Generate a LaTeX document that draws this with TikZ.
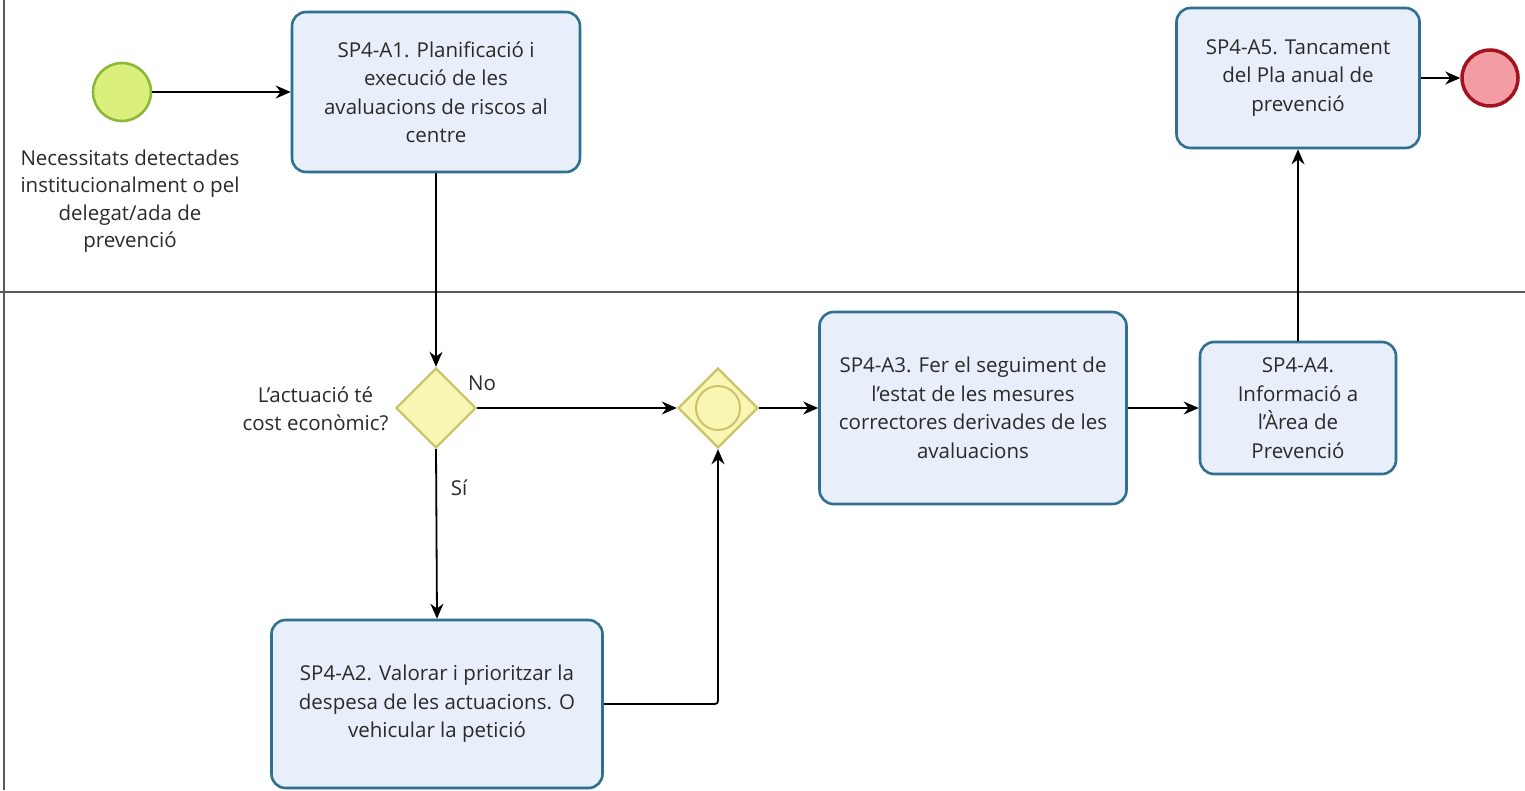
\documentclass[tikz,border=0pt]{standalone}
\usepackage{fontspec}
\setmainfont{Open Sans}
\usetikzlibrary{arrows.meta, shapes.geometric, positioning}

\definecolor{taskfill}{HTML}{E9EEFB}
\definecolor{taskline}{HTML}{2F6F8F}
\definecolor{startfill}{HTML}{DBF07C}
\definecolor{startline}{HTML}{8DB83C}
\definecolor{gatefill}{HTML}{F9F6B4}
\definecolor{gateline}{HTML}{C9C46A}
\definecolor{endfill}{HTML}{F29CA3}
\definecolor{endline}{HTML}{A3121F}
\definecolor{laneline}{HTML}{5A5A5A}
\definecolor{txt}{HTML}{2A2A2A}

\begin{document}
\begin{tikzpicture}[x=1pt, y=-1pt, text=txt,
  task/.style={draw=taskline, fill=taskfill, line width=2.6pt, rounded corners=14pt, align=center, inner sep=0pt, font=\fontsize{20.5}{28.5}\selectfont},
  gate/.style={diamond, draw=gateline, fill=gatefill, line width=2.4pt, minimum width=80pt, minimum height=80pt, inner sep=0pt},
  flow/.style={-{Stealth[length=15pt, width=13pt]}, line width=1.8pt},
  lane/.style={draw=laneline, line width=1.6pt},
  lbl/.style={align=center, font=\fontsize{20.5}{27.5}\selectfont}]
\useasboundingbox (0,0) rectangle (1525,790);
% Pool and lanes
\draw[lane] (4,0) -- (4,790);
\draw[lane] (0,292) -- (1525,292);
% Start event
\node[circle, draw=startline, fill=startfill, line width=2.6pt, minimum size=58pt] (start) at (122,92) {};
\node[lbl, below=24pt of start, xshift=8pt] (startlbl) {Necessitats detectades\\institucionalment o pel\\delegat/ada de\\prevenció};
% Tasks
\node[task, minimum width=288pt, minimum height=160pt] (a1) at (436,92) {SP4-A1. Planificació i\\execució de les\\avaluacions de riscos al\\centre};
\node[task, minimum width=331pt, minimum height=168pt] (a2) at (437,704) {SP4-A2. Valorar i prioritzar la\\despesa de les actuacions. O\\vehicular la petició};
\node[task, minimum width=307pt, minimum height=192pt] (a3) at (973,408) {SP4-A3. Fer el seguiment de\\l’estat de les mesures\\correctores derivades de les\\avaluacions};
\node[task, minimum width=196pt, minimum height=132pt] (a4) at (1298,408) {SP4-A4.\\Informació a\\l’Àrea de\\Prevenció};
\node[task, minimum width=243pt, minimum height=140pt] (a5) at (1298,78) {SP4-A5. Tancament\\del Pla anual de\\prevenció};
% Gateways
\node[gate] (g1) at (436,408) {};
\node[lbl, anchor=east] (g1lbl) at (392,409) {L’actuació té\\cost econòmic?};
\node[lbl] (no) at (482,383) {No};
\node[lbl] (si) at (459,488) {Sí};
\node[gate] (g2) at (718,408) {};
\node[circle, draw=gateline, line width=2pt, minimum size=44pt, inner sep=0pt] (g2c) at (g2) {};
% End event
\node[circle, draw=endline, fill=endfill, line width=3.5pt, minimum size=56pt] (end) at (1490,78) {};
% Sequence flows
\draw[flow] (start) -- (a1.west);
\draw[flow] (a1.south) -- (g1.north);
\draw[flow] (g1.east) -- (g2.west);
\draw[flow] (g1.south) -- (a2.north);
\draw[flow, rounded corners=3pt] (a2.east) -| (g2.south);
\draw[flow] (g2.east) -- (a3.west);
\draw[flow] (a3.east) -- (a4.west);
\draw[flow] (a4.north) -- (a5.south);
\draw[flow] (a5.east) -- (end.west);
\end{tikzpicture}
\end{document}
